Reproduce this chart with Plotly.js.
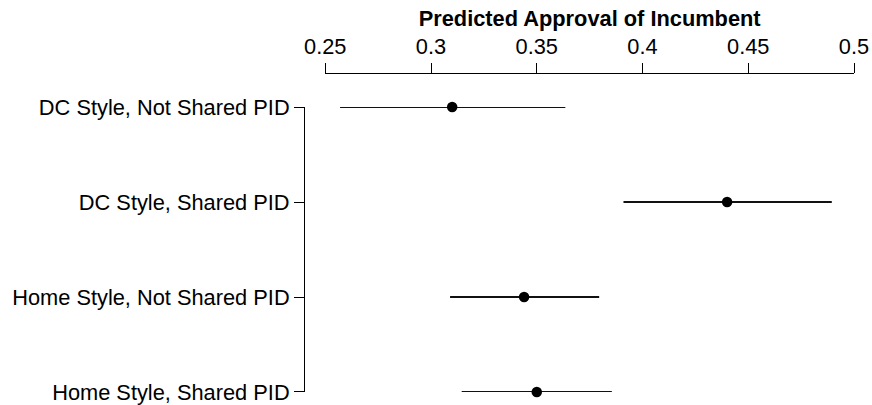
<!DOCTYPE html>
<html>
<head>
<meta charset="utf-8">
<script src="https://cdn.plot.ly/plotly-3.0.1.min.js"></script>
<style>html,body{margin:0;padding:0;background:#fff;}#chart{width:872px;height:405px;}</style>
</head>
<body>
<div id="chart"></div>
<script>
const categories = ["DC Style, Not Shared PID", "DC Style, Shared PID", "Home Style, Not Shared PID", "Home Style, Shared PID"];
const estimates = [0.310, 0.440, 0.344, 0.350];
const lower = [0.257, 0.391, 0.309, 0.3145];
const upper = [0.3635, 0.4895, 0.3795, 0.3855];
const xTicks = [0.25, 0.3, 0.35, 0.4, 0.45, 0.5];
const xTickText = ["0.25", "0.3", "0.35", "0.4", "0.45", "0.5"];

const FONT = "Liberation Sans, Arial, Helvetica, sans-serif";
const FS = 21.8;

const traces = categories.map((c, i) => ({
  type: "scatter",
  mode: "lines",
  x: [lower[i], upper[i]],
  y: [c, c],
  cliponaxis: false,
  line: {color: "#111111", width: 2},
  hoverinfo: "skip"
}));
traces.push({
  type: "scatter",
  mode: "markers",
  x: estimates,
  y: categories,
  cliponaxis: false,
  marker: {color: "#000000", size: 10.5, line: {width: 0}},
  hoverinfo: "skip"
});

const layout = {
  width: 872,
  height: 405,
  margin: {l: 304, r: 18, t: 73, b: 5, pad: 0},
  paper_bgcolor: "#ffffff",
  plot_bgcolor: "#ffffff",
  showlegend: false,
  font: {family: FONT, size: FS, color: "#000000"},
  xaxis: {
    side: "top",
    anchor: "free",
    position: 1,
    domain: [0.0387, 1],
    range: [0.25, 0.5],
    tickvals: xTicks,
    ticktext: xTickText,
    ticks: "outside",
    ticklen: 10,
    tickwidth: 1,
    tickcolor: "#000000",
    showline: true,
    linecolor: "#000000",
    linewidth: 1,
    showgrid: false,
    zeroline: false,
    tickfont: {family: FONT, size: FS, color: "#000000"},
    title: {text: "<b>Predicted Approval of Incumbent</b>", font: {family: FONT, size: FS, color: "#000000"}, standoff: 0}
  },
  yaxis: {
    type: "category",
    categoryorder: "array",
    categoryarray: categories,
    range: [3, 0],
    anchor: "free",
    position: 0,
    domain: [0.02446, 0.8960],
    ticks: "outside",
    ticklen: 10,
    tickwidth: 1,
    tickcolor: "#000000",
    showline: true,
    linecolor: "#000000",
    linewidth: 1,
    showgrid: false,
    zeroline: false,
    tickfont: {family: FONT, size: FS, color: "#000000"}
  }
};

Plotly.newPlot("chart", traces, layout, {displayModeBar: false, staticPlot: true});
</script>
</body>
</html>
